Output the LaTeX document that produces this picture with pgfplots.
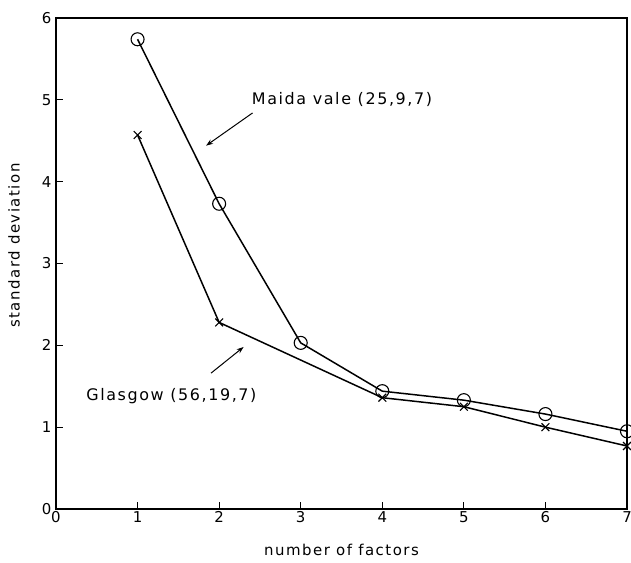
\documentclass[border=0pt]{standalone}
\usepackage{pgfplots}
\pgfplotsset{compat=1.18}
\usetikzlibrary{arrows.meta}
\usepackage{fontspec}
\setmainfont{DejaVu Sans}[LetterSpace=10]
\begin{document}
\begin{tikzpicture}
\begin{axis}[
  name=ax,
  scale only axis,
  width=571bp, height=491bp,
  xmin=0, xmax=7, ymin=0, ymax=6,
  xtick={0,1,2,3,4,5,6,7},
  ytick={0,1,2,3,4,5,6},
  tick align=inside,
  major tick length=7bp,
  xtick pos=bottom, ytick pos=left,
  axis line style={line width=1.1pt},
  every tick/.style={line width=0.9pt, black},
  tick label style={font=\fontsize{15}{18}\selectfont},
  /pgf/number format/assume math mode=true,
  xticklabel style={yshift=1bp},
  yticklabel style={xshift=-1bp},
  clip=false,
]
\addplot[black, line width=1.5pt, mark=o, mark size=6.5bp, mark options={fill=white, line width=1.1pt}]
  coordinates {(1,5.74) (2,3.73) (3,2.03) (4,1.44) (5,1.33) (6,1.16) (7,0.95)};
\addplot[black, line width=1.5pt, mark=x, mark size=5.5bp, mark options={line width=1.1pt}]
  coordinates {(1,4.57) (2,2.28) (4,1.36) (5,1.25) (6,1.00) (7,0.77)};
\node[anchor=west, inner sep=0pt, font=\fontsize{16}{19}\selectfont] at (axis cs:2.40,5.01) {Maida vale (25,9,7)};
\draw[-{Stealth[length=7bp,width=5bp]}, line width=1pt] (axis cs:2.41,4.84) -- (axis cs:1.84,4.44);
\node[anchor=west, inner sep=0pt, font=\fontsize{16}{19}\selectfont] at (axis cs:0.37,1.38) {Glasgow (56,19,7)};
\draw[-{Stealth[length=7bp,width=5bp]}, line width=1pt] (axis cs:1.90,1.66) -- (axis cs:2.30,1.98);
\end{axis}
\node[rotate=90, font=\fontsize{15}{18}\selectfont] at ([xshift=-42bp,yshift=18bp]ax.west) {standard deviation};
\node[font=\fontsize{15}{18}\selectfont] at ([yshift=-41bp]ax.south) {number of factors};
\pgfresetboundingbox
\useasboundingbox ([xshift=-56bp,yshift=-54bp]ax.south west) rectangle ([xshift=4bp,yshift=18bp]ax.north east);
\end{tikzpicture}
\end{document}
